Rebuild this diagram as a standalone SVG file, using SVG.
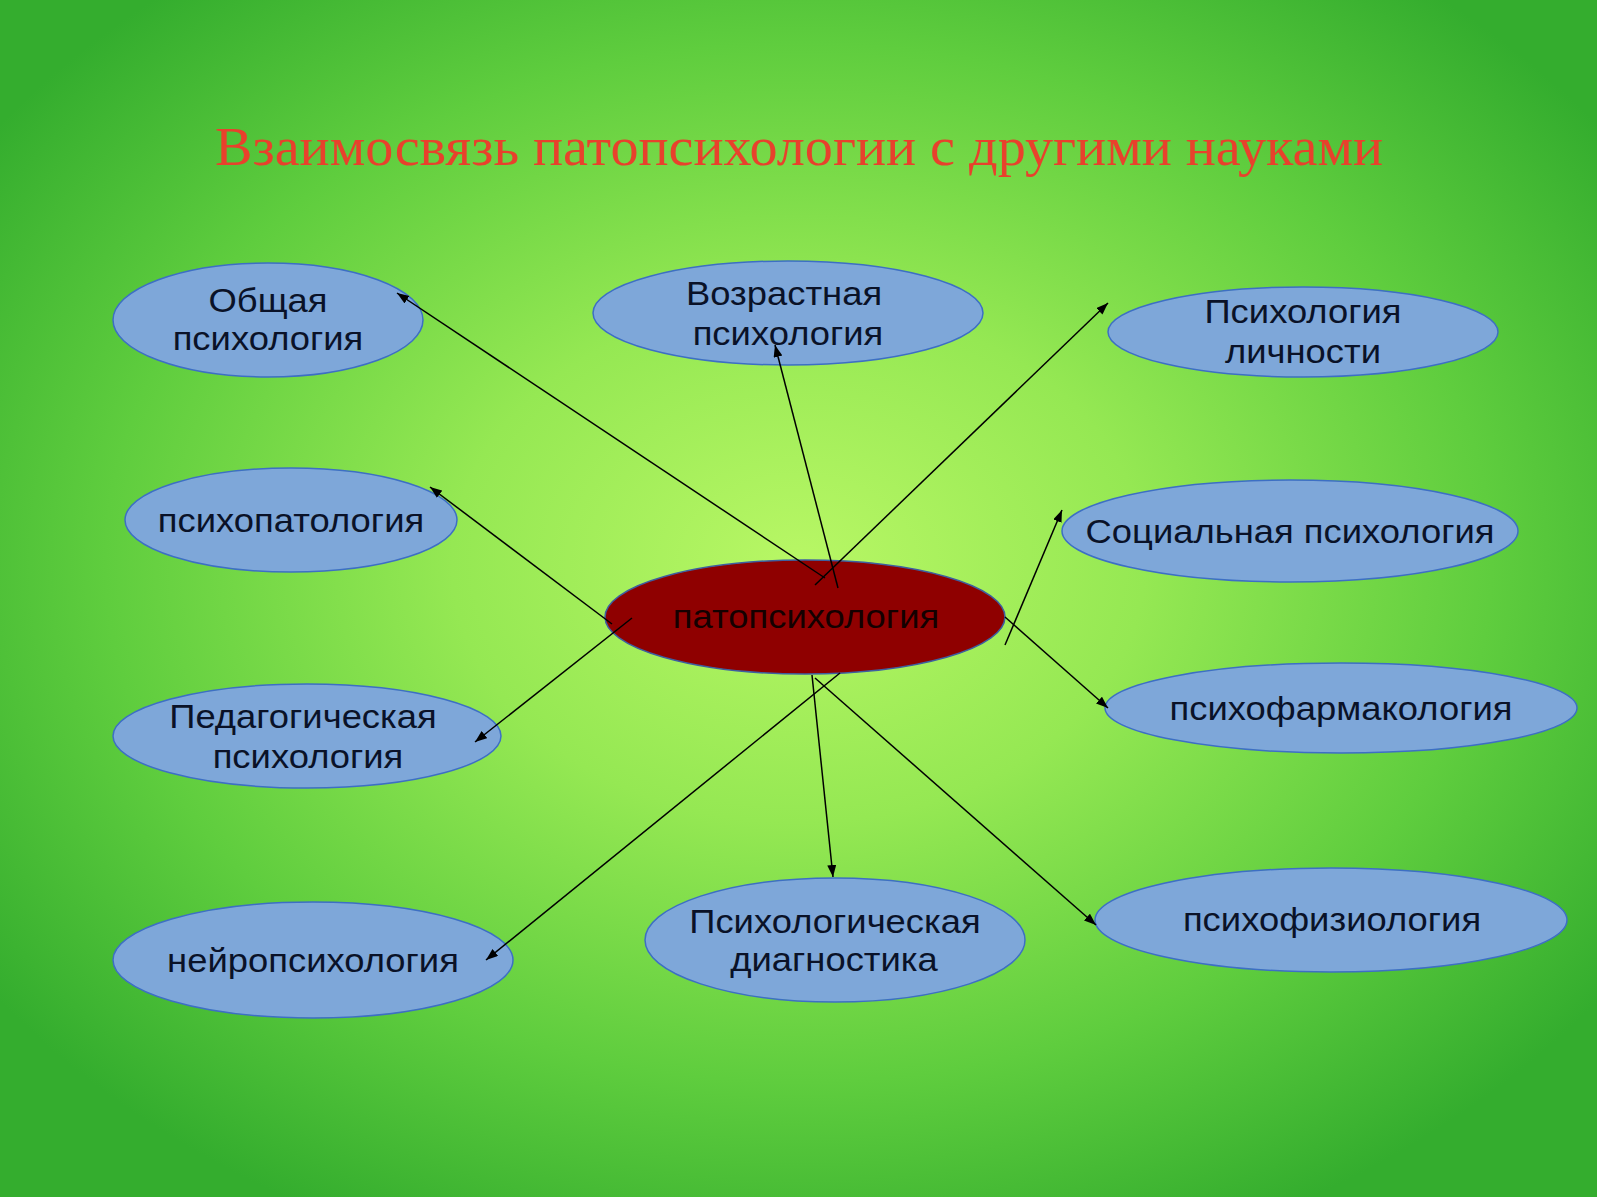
<svg xmlns="http://www.w3.org/2000/svg" width="1600" height="1200" viewBox="0 0 1600 1200">
  <defs>
    <radialGradient id="bg" cx="0.5" cy="0.47" r="0.62">
      <stop offset="0" stop-color="#b8f765"/>
      <stop offset="0.35" stop-color="#95e853"/>
      <stop offset="0.7" stop-color="#5fcd3e"/>
      <stop offset="1" stop-color="#34ad2e"/>
    </radialGradient>
    <marker id="arr" markerUnits="userSpaceOnUse" markerWidth="14" markerHeight="10" refX="12" refY="4.5" orient="auto">
      <path d="M0,0 L12,4.5 L0,9 z" fill="#000"/>
    </marker>
    <style>
      .node { fill: #7ea7d9; stroke: #3d6fc4; stroke-width: 1.5; }
      .center { fill: #8f0000; stroke: #3d5fa0; stroke-width: 1.5; }
      .lbl { font-family: "Liberation Sans", Arial, sans-serif; font-size: 32.5px; fill: #0a1228; text-anchor: middle; }
      .clbl { font-family: "Liberation Sans", Arial, sans-serif; font-size: 32.5px; fill: #140000; text-anchor: middle; }
      .title { font-family: "Liberation Serif", "Times New Roman", serif; font-size: 54px; fill: #e8412c; }
      .conn line { stroke: #000; stroke-width: 1.5; }
      .conn line.a { marker-end: url(#arr); }
    </style>
  </defs>

  <rect x="0" y="0" width="1600" height="1200" fill="#ffffff"/>
  <rect x="0" y="0" width="1597" height="1197" fill="url(#bg)"/>

  <text class="title" x="215" y="165" textLength="1168" lengthAdjust="spacingAndGlyphs">Взаимосвязь патопсихологии с другими науками</text>

  <g id="node-obshchaya">
    <ellipse class="node" cx="268" cy="320" rx="155" ry="57"/>
    <text class="lbl" transform="matrix(1.12 0 0 1 268 0)" x="0" y="312">Общая</text>
    <text class="lbl" transform="matrix(1.12 0 0 1 268 0)" x="0" y="350">психология</text>
  </g>

  <g id="node-vozrastnaya">
    <ellipse class="node" cx="788" cy="313" rx="195" ry="52"/>
    <text class="lbl" transform="matrix(1.12 0 0 1 784 0)" x="0" y="305">Возрастная</text>
    <text class="lbl" transform="matrix(1.12 0 0 1 788 0)" x="0" y="345">психология</text>
  </g>

  <g id="node-lichnosti">
    <ellipse class="node" cx="1303" cy="332" rx="195" ry="45"/>
    <text class="lbl" transform="matrix(1.12 0 0 1 1303 0)" x="0" y="323">Психология</text>
    <text class="lbl" transform="matrix(1.12 0 0 1 1303 0)" x="0" y="363">личности</text>
  </g>

  <g id="node-psikhopatologiya">
    <ellipse class="node" cx="291" cy="520" rx="166" ry="52"/>
    <text class="lbl" transform="matrix(1.12 0 0 1 291 0)" x="0" y="532">психопатология</text>
  </g>

  <g id="node-sotsialnaya">
    <ellipse class="node" cx="1290" cy="531" rx="228" ry="51"/>
    <text class="lbl" transform="matrix(1.12 0 0 1 1290 0)" x="0" y="543">Социальная психология</text>
  </g>

  <g id="node-pedagogicheskaya">
    <ellipse class="node" cx="307" cy="736" rx="194" ry="52"/>
    <text class="lbl" transform="matrix(1.12 0 0 1 303 0)" x="0" y="728">Педагогическая</text>
    <text class="lbl" transform="matrix(1.12 0 0 1 308 0)" x="0" y="768">психология</text>
  </g>

  <g id="node-farmakologiya">
    <ellipse class="node" cx="1341" cy="708" rx="236" ry="45"/>
    <text class="lbl" transform="matrix(1.12 0 0 1 1341 0)" x="0" y="720">психофармакология</text>
  </g>

  <g id="node-neyro">
    <ellipse class="node" cx="313" cy="960" rx="200" ry="58"/>
    <text class="lbl" transform="matrix(1.12 0 0 1 313 0)" x="0" y="972">нейропсихология</text>
  </g>

  <g id="node-diagnostika">
    <ellipse class="node" cx="835" cy="940" rx="190" ry="62"/>
    <text class="lbl" transform="matrix(1.12 0 0 1 835 0)" x="0" y="933">Психологическая</text>
    <text class="lbl" transform="matrix(1.12 0 0 1 834 0)" x="0" y="971">диагностика</text>
  </g>

  <g id="node-fiziologiya">
    <ellipse class="node" cx="1331" cy="920" rx="236" ry="52"/>
    <text class="lbl" transform="matrix(1.12 0 0 1 1332 0)" x="0" y="931">психофизиология</text>
  </g>

  <g id="node-patopsikhologiya">
    <ellipse class="center" cx="805" cy="617" rx="200" ry="57"/>
    <text class="clbl" transform="matrix(1.12 0 0 1 806 0)" x="0" y="628">патопсихология</text>
  </g>

  <g id="connectors" class="conn">
    <line class="a" x1="825" y1="578" x2="397" y2="293"/>
    <line class="a" x1="838" y1="588" x2="775" y2="345"/>
    <line class="a" x1="815" y1="585" x2="1108" y2="303"/>
    <line class="a" x1="612" y1="624" x2="430" y2="487"/>
    <line class="a" x1="632" y1="618" x2="475" y2="742"/>
    <line class="a" x1="840" y1="673" x2="486" y2="960"/>
    <line class="a" x1="812" y1="675" x2="833" y2="877"/>
    <line class="a" x1="815" y1="678" x2="1096" y2="925"/>
    <line class="a" x1="1005" y1="617" x2="1108" y2="708"/>
    <line class="a" x1="1005" y1="645" x2="1062" y2="510"/>
  </g>
</svg>
